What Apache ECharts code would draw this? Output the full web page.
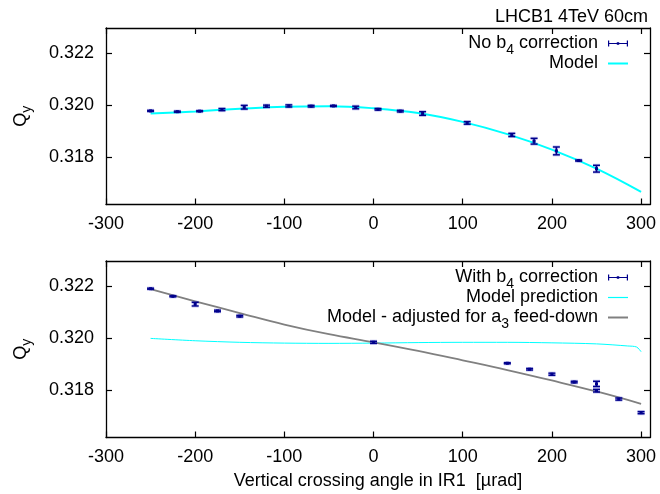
<!DOCTYPE html>
<html><head><meta charset="utf-8">
<script src="https://cdn.jsdelivr.net/npm/echarts@6/dist/echarts.min.js"></script>
<style>html,body{margin:0;padding:0;background:#fff}#c{width:660px;height:494px}</style>
</head><body><div id="c"></div>
<script>
// ---- data ----
const xTicks = [-300, -200, -100, 0, 100, 200, 300];
const yTicks = [0.318, 0.320, 0.322];

// Top panel: No b4 correction
const topX   = [-250, -220, -195, -170, -145, -120, -95, -70, -45, -20, 5, 30, 55, 105, 155, 180, 205, 230, 250];
const topY   = [0.31978, 0.31975, 0.31977, 0.31983, 0.31992, 0.31996, 0.31997, 0.31996, 0.31997, 0.31991, 0.31984, 0.31977, 0.31968, 0.31932, 0.31886, 0.31862, 0.31825, 0.31788, 0.31757];
const topErr = [0.00002, 0.00002, 0.00002, 0.00004, 0.00007, 0.00004, 0.00004, 0.00003, 0.00002, 0.00005, 0.00003, 0.00003, 0.00007, 0.00005, 0.00006, 0.00011, 0.00015, 0.00002, 0.00013];
const topModelX = [-250, -200, -150, -100, -50, 0, 50, 100, 150, 200, 250, 300];
const topModelY = [0.31968, 0.31976, 0.31986, 0.31994, 0.31996, 0.31988, 0.31970, 0.31936, 0.31889, 0.31830, 0.31757, 0.31668];

// Bottom panel: With b4 correction
const botX   = [-250, -225, -200, -175, -150, 0, 150, 175, 200, 225, 250, 250, 275, 300];
const botY   = [0.32189, 0.32160, 0.32130, 0.32104, 0.32084, 0.31984, 0.31904, 0.31881, 0.31862, 0.31832, 0.31825, 0.31799, 0.31767, 0.31715];
const botErr = [0.00002, 0.00002, 0.00007, 0.00003, 0.00003, 0.00004, 0.00002, 0.00003, 0.00004, 0.00003, 0.00010, 0.00005, 0.00004, 0.00004];
const predX = [-250, -200, -150, -100, -50, 0, 50, 100, 150, 200, 250, 285, 295, 300];
const predY = [0.31999, 0.31990, 0.31984, 0.31981, 0.31980, 0.31981, 0.31983, 0.31984, 0.31984, 0.31982, 0.31978, 0.31970, 0.31966, 0.31948];
const adjX = [-250, -200, -150, -100, -50, 0, 50, 100, 150, 200, 250, 300];
const adjY = [0.32187, 0.32141, 0.32096, 0.32052, 0.32015, 0.31984, 0.31951, 0.31915, 0.31878, 0.31838, 0.31796, 0.31749];

// ---- styling ----
const FONT = "'Liberation Sans', Arial, sans-serif";
const NAVY = '#00008B';
const CYAN = '#00FFFF';
const GRAY = '#808080';
const X_MIN = -300, X_MAX = 310, Y_MIN = 0.3162, Y_MAX = 0.32295;

const richStyles = {
  t: {fontSize: 18, fontFamily: FONT, color: '#000', lineHeight: 18},
  e: {fontSize: 18, fontFamily: FONT, color: '#000', lineHeight: 18, padding: [0, 5, 0, 0]},
  s: {fontSize: 14, fontFamily: FONT, color: '#000', lineHeight: 18, padding: [14, 0, 0, 0]}
};
const legendLabels = {
  'No b4 correction': '{t|No b}{s|4}{e| correction}',
  'Model': '{e|Model}',
  'With b4 correction': '{t|With b}{s|4}{e| correction}',
  'Model prediction': '{e|Model prediction}',
  'Model - adjusted for a3 feed-down': '{t|Model - adjusted for a}{s|3}{e| feed-down}'
};

const errIcon = 'path://M0,0h1.2v6h-1.2z M0,2.4h20v1.2h-20z M18.8,0h1.2v6h-1.2z M8.8,1.8h2.4v2.4h-2.4z';
const thickLineIcon = 'path://M0,0h20v2h-20z';
const thinLineIcon = 'path://M0,0h20v1.2h-20z';

function errRender(params, api) {
  const x = api.value(0), y = api.value(1), e = api.value(2);
  const c = api.coord([x, y]);
  const t = api.coord([x, y + e]);
  const b = api.coord([x, y - e]);
  const w = 3.5;
  const hs = {stroke: 'rgba(70,70,210,0.35)', lineWidth: 3};
  const ms = {stroke: NAVY, lineWidth: 1.4};
  const L = (x1, y1, x2, y2, st) => ({type: 'line', shape: {x1, y1, x2, y2}, style: st});
  return {type: 'group', children: [
    L(c[0], t[1], c[0], b[1], hs), L(c[0] - w, t[1], c[0] + w, t[1], hs), L(c[0] - w, b[1], c[0] + w, b[1], hs),
    L(c[0], t[1], c[0], b[1], ms), L(c[0] - w, t[1], c[0] + w, t[1], ms), L(c[0] - w, b[1], c[0] + w, b[1], ms),
    {type: 'rect', shape: {x: c[0] - 1.5, y: c[1] - 1.5, width: 3, height: 3}, style: {fill: NAVY}}
  ]};
}

const axLine = {show: true, onZero: false, lineStyle: {color: '#000', width: 1.3}};
function xAxisDef(gridIndex, position, withLabels, name) {
  return {
    type: 'value', gridIndex, position, min: X_MIN, max: X_MAX,
    axisLine: axLine,
    axisTick: {show: true, inside: true, length: 6, customValues: xTicks, lineStyle: {color: '#000', width: 1.2}},
    axisLabel: withLabels ? {show: true, customValues: xTicks, margin: 10.5, fontSize: 18, fontFamily: FONT, color: '#000'} : {show: false},
    splitLine: {show: false},
    name: name || '', nameLocation: 'middle', nameGap: 35,
    nameTextStyle: {fontSize: 18, fontFamily: FONT, color: '#000'}
  };
}
function yAxisDef(gridIndex, position, withLabels) {
  return {
    type: 'value', gridIndex, position, min: Y_MIN, max: Y_MAX,
    axisLine: axLine,
    axisTick: {show: true, inside: true, length: 6, customValues: yTicks, lineStyle: {color: '#000', width: 1.2}},
    axisLabel: withLabels ? {show: true, customValues: yTicks, margin: 12, fontSize: 18, fontFamily: FONT, color: '#000',
      formatter: v => v.toFixed(3)} : {show: false},
    splitLine: {show: false},
    name: withLabels ? '{q|Q}{s|y}' : '', nameLocation: 'middle', nameGap: 76, nameRotate: 90,
    nameTextStyle: {rich: {
      q: {fontSize: 18, fontFamily: FONT, color: '#000', lineHeight: 18},
      s: {fontSize: 14, fontFamily: FONT, color: '#000', lineHeight: 18, padding: [12, 0, 0, 0]}
    }}
  };
}
function legendDef(top, items) {
  return {
    orient: 'vertical', align: 'right', right: 32, top,
    itemWidth: 20, itemHeight: 6, itemGap: -3, padding: 0,
    selectedMode: false,
    itemStyle: {borderWidth: 0},
    data: items,
    formatter: n => legendLabels[n] || n,
    textStyle: {fontSize: 18, fontFamily: FONT, color: '#000', rich: richStyles}
  };
}

const chart = echarts.init(document.getElementById('c'), null, {renderer: 'canvas'});
chart.setOption({
  animation: false,
  backgroundColor: '#fff',
  title: {text: 'LHCB1 4TeV 60cm', right: 12, top: 8, padding: 0,
    textStyle: {fontSize: 18, fontWeight: 'normal', fontFamily: FONT, color: '#000'}},
  grid: [
    {left: 106, top: 28, width: 544, height: 176.5},
    {left: 106, top: 261, width: 544, height: 176.5}
  ],
  xAxis: [
    xAxisDef(0, 'bottom', true),
    xAxisDef(0, 'top', false),
    xAxisDef(1, 'bottom', true, 'Vertical crossing angle in IR1  [\u00b5rad]'),
    xAxisDef(1, 'top', false)
  ],
  yAxis: [
    yAxisDef(0, 'left', true),
    yAxisDef(0, 'right', false),
    yAxisDef(1, 'left', true),
    yAxisDef(1, 'right', false)
  ],
  legend: [
    legendDef(29.5, [{name: 'No b4 correction', icon: errIcon}, {name: 'Model', icon: thickLineIcon}]),
    legendDef(263.5, [{name: 'With b4 correction', icon: errIcon}, {name: 'Model prediction', icon: thinLineIcon},
      {name: 'Model - adjusted for a3 feed-down', icon: thickLineIcon}])
  ],
  series: [
    {name: 'Model', type: 'line', xAxisIndex: 0, yAxisIndex: 0, symbol: 'none', smooth: 0.4, z: 2,
      color: CYAN, itemStyle: {color: CYAN}, lineStyle: {color: CYAN, width: 2},
      data: topModelX.map((x, i) => [x, topModelY[i]])},
    {name: 'No b4 correction', type: 'custom', xAxisIndex: 0, yAxisIndex: 0, renderItem: errRender, z: 3,
      color: NAVY, itemStyle: {color: NAVY}, encode: {x: 0, y: 1}, clip: false,
      data: topX.map((x, i) => [x, topY[i], topErr[i]])},
    {name: 'Model prediction', type: 'line', xAxisIndex: 2, yAxisIndex: 2, symbol: 'none', smooth: 0.3, z: 2,
      color: CYAN, itemStyle: {color: CYAN}, lineStyle: {color: CYAN, width: 1},
      data: predX.map((x, i) => [x, predY[i]])},
    {name: 'Model - adjusted for a3 feed-down', type: 'line', xAxisIndex: 2, yAxisIndex: 2, symbol: 'none', smooth: 0.4, z: 2,
      color: GRAY, itemStyle: {color: GRAY}, lineStyle: {color: GRAY, width: 1.8},
      data: adjX.map((x, i) => [x, adjY[i]])},
    {name: 'With b4 correction', type: 'custom', xAxisIndex: 2, yAxisIndex: 2, renderItem: errRender, z: 3,
      color: NAVY, itemStyle: {color: NAVY}, encode: {x: 0, y: 1}, clip: false,
      data: botX.map((x, i) => [x, botY[i], botErr[i]])}
  ]
});
</script>
</body></html>
